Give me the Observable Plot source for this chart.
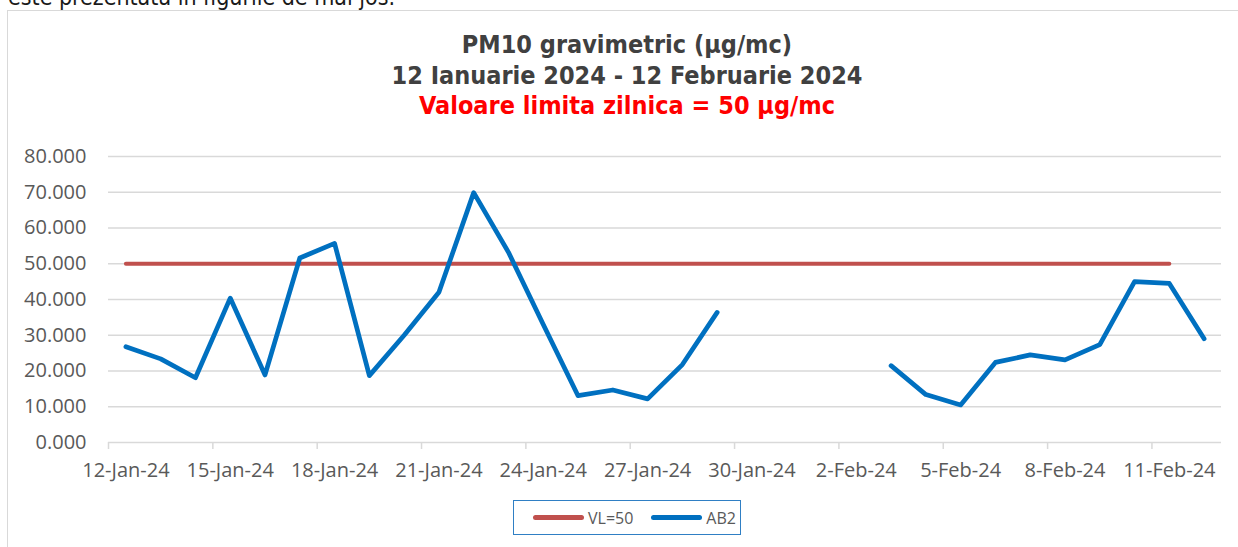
<!DOCTYPE html>
<html><head><meta charset="utf-8">
<script src="https://cdn.jsdelivr.net/npm/d3@7"></script>
<script src="https://cdn.jsdelivr.net/npm/@observablehq/plot@0.6"></script>
<style>
html,body{margin:0;padding:0;background:#fff;width:1238px;height:547px;overflow:hidden;position:relative}
#top{position:absolute;left:8px;top:-16px;font:23px "DejaVu Sans Condensed";color:#1a1a1a;white-space:nowrap}
#frame{position:absolute;left:7px;top:10px;width:1300px;height:600px;border-left:1.5px solid #d9d9d9;border-top:1.5px solid #d9d9d9}
#title{position:absolute;left:0;width:1254px;top:30px;text-align:center;font:bold 25px "DejaVu Sans Condensed";line-height:30.5px;color:#404040}
#title .red{color:#ff0000}
#chart{position:absolute;left:0;top:130px}
#legend{position:absolute;left:513px;top:500px;width:228px;height:35px;border:1.5px solid #2f7fc4;box-sizing:border-box;display:flex;align-items:center;font:16px "Open Sans";color:#595959}
#legend .sw{display:inline-block;height:5px;border-radius:3px}
</style>
</head><body>
<div id="top">este prezentată în figurile de mai jos.</div>
<div id="frame"></div>
<div id="title">PM10 gravimetric (µg/mc)<br>12 Ianuarie 2024 - 12 Februarie 2024<br><span class="red">Valoare limita zilnica = 50 µg/mc</span></div>
<div id="chart"></div>
<div id="legend"></div>
<script>
const dates = ["2024-01-12","2024-01-13","2024-01-14","2024-01-15","2024-01-16","2024-01-17","2024-01-18","2024-01-19","2024-01-20","2024-01-21","2024-01-22","2024-01-23","2024-01-24","2024-01-25","2024-01-26","2024-01-27","2024-01-28","2024-01-29","2024-01-30","2024-01-31","2024-02-01","2024-02-02","2024-02-03","2024-02-04","2024-02-05","2024-02-06","2024-02-07","2024-02-08","2024-02-09","2024-02-10","2024-02-11","2024-02-12"];
const ab2 = [26.8,23.4,18.1,40.4,18.9,51.6,55.7,18.7,30.0,42.0,69.9,53.2,33.0,13.1,14.7,12.2,21.8,36.4,null,null,null,null,21.5,13.4,10.5,22.4,24.5,23.1,27.4,45.0,44.5,29.0];
const vl = [50,50,50,50,50,50,50,50,50,50,50,50,50,50,50,50,50,50,50,50,50,50,50,50,50,50,50,50,50,50,50,null];
const tickLabels = ["2024-01-12","2024-01-15","2024-01-18","2024-01-21","2024-01-24","2024-01-27","2024-01-30","2024-02-02","2024-02-05","2024-02-08","2024-02-11"];
const yTicks = [0,10,20,30,40,50,60,70,80];
const seriesNames = ["VL=50","AB2"];
const seriesColors = ["#C0504D","#0070C0"];

const HALF = 12*3600*1000;
const rows = dates.map((d,i)=>({date:new Date(d+"T00:00:00Z"), ab2:ab2[i], vl:vl[i]}));
const labelDates = tickLabels.map(d=>new Date(d+"T00:00:00Z"));
const boundaryDates = labelDates.map(d=>new Date(+d-HALF));
const x0 = new Date(+rows[0].date-HALF), x1 = new Date(+rows[rows.length-1].date+HALF);

const chart = Plot.plot({
  width:1238, height:360, marginLeft:108, marginRight:17, marginTop:26, marginBottom:48,
  style:{fontFamily:"'Open Sans'", fontSize:"20px", color:"#595959", background:"transparent", overflow:"visible"},
  x:{type:"utc", domain:[x0,x1]},
  y:{domain:[0,80]},
  marks:[
    Plot.ruleY(yTicks.filter(v=>v>0),{stroke:"#d9d9d9",strokeWidth:1.3}),
    Plot.ruleY([0],{stroke:"#d9d9d9",strokeWidth:1.5}),
    Plot.axisY({ticks:yTicks, tickSize:0, tickPadding:22, tickFormat:d3.format(".3f"), label:null, fill:"#595959"}),
    Plot.axisX({ticks:boundaryDates, tickSize:7, tickFormat:()=>"", stroke:"#d9d9d9", strokeWidth:1.5, label:null}),
    Plot.axisX({ticks:labelDates, tickSize:0, tickPadding:20, tickFormat:d3.utcFormat("%-d-%b-%y"), label:null, fill:"#595959"}),
    Plot.line(rows,{x:"date",y:"vl",stroke:seriesColors[0],strokeWidth:4,strokeLinecap:"round",strokeLinejoin:"round"}),
    Plot.line(rows,{x:"date",y:"ab2",stroke:seriesColors[1],strokeWidth:4.7,strokeLinecap:"round",strokeLinejoin:"round"})
  ]
});
document.getElementById("chart").appendChild(chart);

const lg = document.getElementById("legend");
seriesNames.forEach((n,i)=>{
  const sw = document.createElement("span");
  sw.className="sw"; sw.style.width="51px"; sw.style.background=seriesColors[i];
  sw.style.marginLeft = i===0 ? "19px" : "18px"; sw.style.marginRight="4px";
  const t = document.createElement("span"); t.textContent=n;
  lg.appendChild(sw); lg.appendChild(t);
});
</script>
</body></html>
